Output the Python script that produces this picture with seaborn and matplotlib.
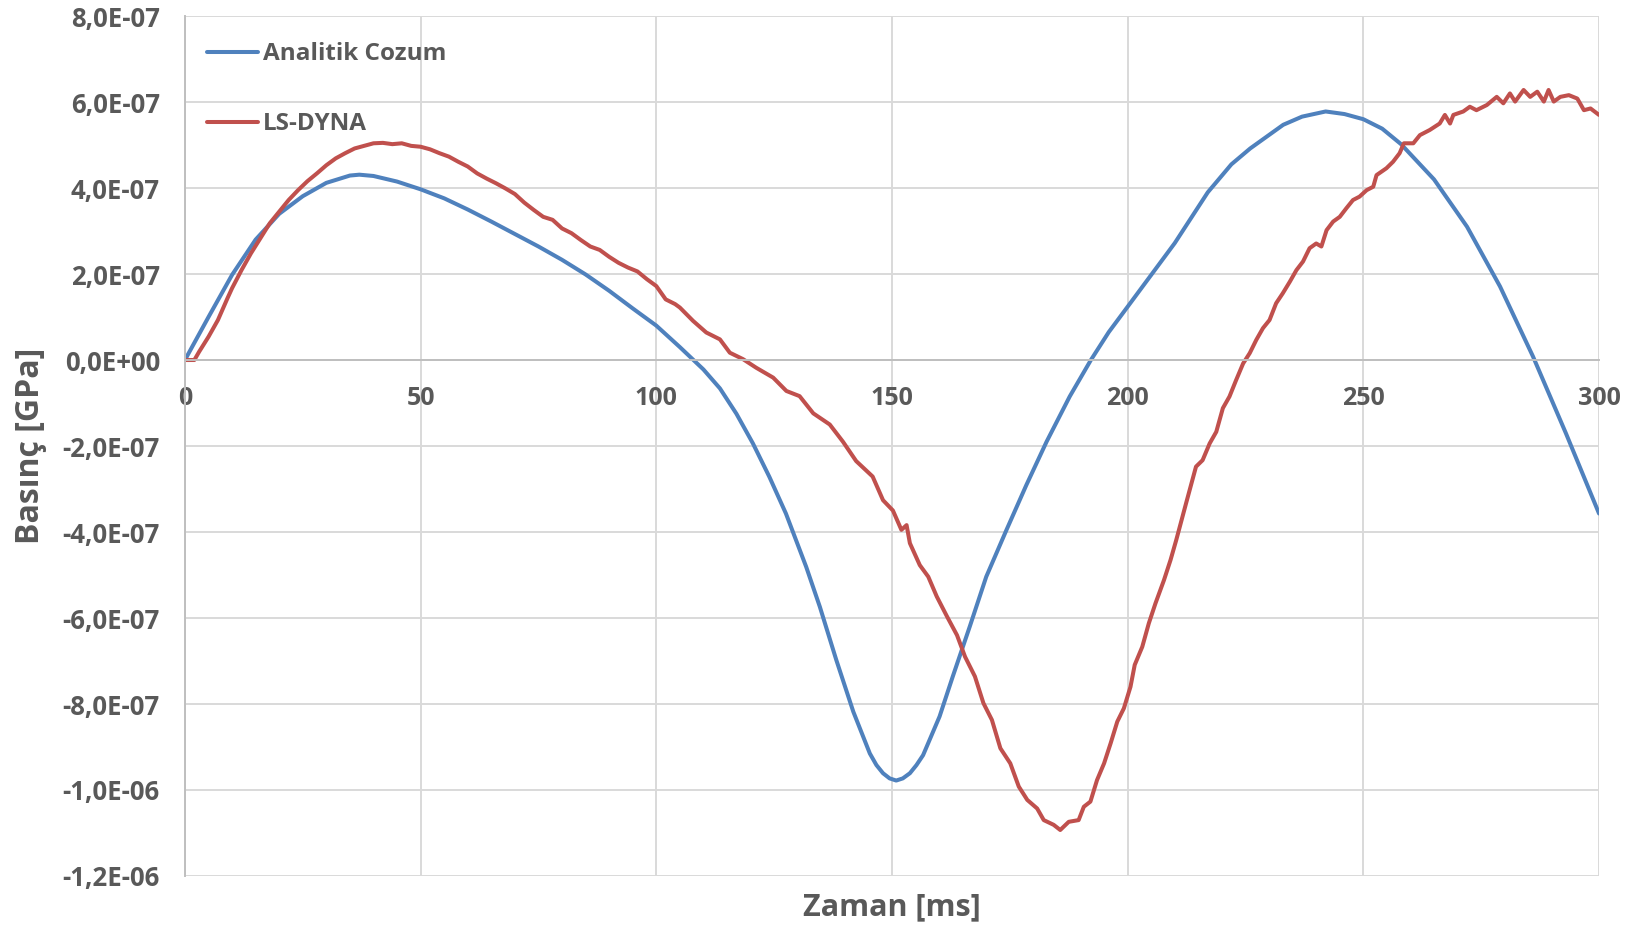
import seaborn as sns
import matplotlib.pyplot as plt
import numpy as np
import pandas as pd

# values, pressure in units of 1e-7 GPa
analitik_t = [0, 5, 10, 15, 20, 25, 30, 35, 37, 40, 45, 50, 55, 60, 65, 70, 75, 80, 85, 90,
              95, 100, 105, 110, 113.5, 117, 120.5, 124, 127.5, 131.8, 134.7, 138.2, 141.8,
              145.3, 146.7, 148.1, 149.5, 150.9, 152.3, 153.8, 155.2, 156.6, 160.1, 162.9,
              166.5, 170, 174.3, 178.5, 182.8, 187.7, 192.2, 196, 200, 205, 210, 217, 222,
              226, 233, 237, 242, 246, 250, 254, 258, 265, 272, 279, 286, 293, 300]
analitik_p = [0, 1.0, 1.98, 2.8, 3.4, 3.81, 4.12, 4.29, 4.31, 4.28, 4.15, 3.97, 3.76, 3.5, 3.22,
              2.93, 2.64, 2.33, 1.99, 1.61, 1.2, 0.8, 0.3, -0.22, -0.66, -1.25, -1.94, -2.72,
              -3.57, -4.81, -5.74, -6.98, -8.18, -9.15, -9.42, -9.61, -9.73, -9.78, -9.73,
              -9.61, -9.42, -9.19, -8.29, -7.36, -6.2, -5.04, -3.95, -2.91, -1.9, -0.85, 0.0,
              0.65, 1.24, 1.98, 2.72, 3.9, 4.55, 4.92, 5.47, 5.66, 5.78, 5.72, 5.6, 5.38, 5.02,
              4.2, 3.1, 1.71, 0.08, -1.71, -3.57]

lsdyna_t = [0, 2, 3, 5, 7, 9, 10, 12, 14, 16, 18, 20, 22, 24, 26, 28, 30, 32, 34, 36, 38, 40,
            42, 44, 46, 48, 50, 52, 54, 56, 58, 60, 62, 64, 66, 68, 70, 72, 74, 76, 78, 80, 82,
            84, 86, 88, 90, 92, 94, 96, 98, 100, 102, 104, 105, 107.8, 110.6, 113.5, 115.6,
            118.4, 121.2, 124.8, 127.6, 130.4, 133.3, 136.8, 139.6, 142.4, 145.9, 148.1, 150.2,
            152.0, 153.1, 153.8, 155.9, 157.7, 159.5, 161.7, 163.8, 165.5, 167.6, 169.4, 171.2,
            173.0, 175.1, 176.9, 178.7, 180.8, 182.2, 184.3, 185.7, 187.5, 189.6, 190.7, 192.1,
            193.5, 195.0, 196.4, 197.8, 199.2, 200.6, 201.5, 203.1, 204.5, 205.9, 207.7, 209.1,
            210.3, 212.4, 214.5, 215.9, 217.4, 218.8, 220.2, 221.6, 223.0, 224.5, 225.9, 227.3,
            228.7, 230.1, 231.5, 232.9, 234.4, 235.8, 237.2, 238.6, 240.0, 241.1, 242.2, 243.6,
            245.0, 246.4, 247.8, 249.2, 250.7, 252.1, 252.8, 254.9, 256.3, 257.7, 258.6, 260.6,
            262.0, 264.1, 266.2, 267.3, 268.4, 269.1, 271.2, 272.6, 274.0, 276.2, 278.3, 279.7,
            281.1, 282.2, 284.0, 285.4, 286.9, 288.3, 289.3, 290.4, 291.8, 293.6, 295.4, 296.8,
            298.2, 300.0]
lsdyna_p = [0, 0.0, 0.19, 0.54, 0.93, 1.43, 1.67, 2.09, 2.48, 2.83, 3.18, 3.45, 3.72, 3.95, 4.16,
            4.34, 4.53, 4.69, 4.81, 4.92, 4.98, 5.04, 5.05, 5.02, 5.04, 4.98, 4.96, 4.9, 4.81,
            4.73, 4.61, 4.5, 4.34, 4.22, 4.11, 3.99, 3.86, 3.66, 3.49, 3.33, 3.26, 3.06, 2.95,
            2.79, 2.64, 2.56, 2.4, 2.26, 2.15, 2.06, 1.88, 1.72, 1.41, 1.3, 1.22, 0.91, 0.64,
            0.48, 0.17, 0.02, -0.18, -0.41, -0.72, -0.84, -1.24, -1.5, -1.9, -2.35, -2.71, -3.26,
            -3.5, -3.95, -3.84, -4.26, -4.77, -5.04, -5.5, -5.97, -6.4, -6.9, -7.36, -7.98, -8.37,
            -9.03, -9.38, -9.92, -10.23, -10.43, -10.7, -10.81, -10.93, -10.74, -10.7, -10.39,
            -10.27, -9.77, -9.38, -8.91, -8.41, -8.1, -7.6, -7.09, -6.67, -6.12, -5.66, -5.12,
            -4.65, -4.19, -3.33, -2.48, -2.33, -1.94, -1.67, -1.12, -0.85, -0.47, -0.08, 0.16,
            0.47, 0.74, 0.93, 1.32, 1.55, 1.82, 2.09, 2.29, 2.6, 2.71, 2.64, 3.02, 3.22, 3.33,
            3.53, 3.72, 3.8, 3.95, 4.03, 4.3, 4.46, 4.61, 4.81, 5.04, 5.04, 5.23, 5.35, 5.5, 5.7,
            5.5, 5.7, 5.78, 5.89, 5.81, 5.93, 6.12, 5.97, 6.2, 6.01, 6.28, 6.12, 6.24, 6.01, 6.28,
            6.01, 6.12, 6.16, 6.08, 5.81, 5.85, 5.7]

x_ticks = [0, 50, 100, 150, 200, 250, 300]
y_ticks = [-12e-7, -10e-7, -8e-7, -6e-7, -4e-7, -2e-7, 0, 2e-7, 4e-7, 6e-7, 8e-7]

sns.set_style("white")
plt.rcParams['font.family'] = ['Open Sans', 'DejaVu Sans']
gray = "#595959"

fig = plt.figure(figsize=(16.38, 9.26), dpi=100)
ax = fig.add_axes([0.1129, 0.054, 0.8633, 0.9287])

sns.lineplot(x=analitik_t, y=np.array(analitik_p) * 1e-7, ax=ax, color="#4F81BD",
             linewidth=2.9, label="Analitik Cozum", sort=False, estimator=None)
sns.lineplot(x=lsdyna_t, y=np.array(lsdyna_p) * 1e-7, ax=ax, color="#C0504D",
             linewidth=2.9, label="LS-DYNA", sort=False, estimator=None)

ax.set_xlim(0, 300)
ax.set_ylim(-12e-7, 8e-7)
ax.set_xticks(x_ticks)
ax.set_yticks(y_ticks)
ax.set_yticklabels([f"{v:.1E}".replace(".", ",") for v in y_ticks])
ax.grid(True, color="#D9D9D9", linewidth=1.4)
ax.set_axisbelow(True)

for s in ["top", "right"]:
    ax.spines[s].set_visible(False)
ax.spines["bottom"].set_position(("data", 0))
ax.spines["bottom"].set_color("#BFBFBF")
ax.spines["left"].set_color("#BFBFBF")
ax.spines["bottom"].set_linewidth(1.4)
ax.spines["left"].set_linewidth(1.4)

ax.tick_params(axis="y", length=0, labelsize=18.5, labelcolor=gray, pad=18)
ax.tick_params(axis="x", length=0, labelsize=18, labelcolor=gray, pad=19)
for lab in ax.get_xticklabels() + ax.get_yticklabels():
    lab.set_fontweight("bold")

ax.set_xlabel("Zaman [ms]", fontsize=22, fontweight="bold", color=gray, va="center")
ax.set_ylabel("Basınç [GPa]", fontsize=23, fontweight="bold", color=gray, va="center")
ax.xaxis.set_label_coords(0.5, -0.037)
ax.yaxis.set_label_coords(-0.109, 0.5)

leg = ax.legend(loc="upper left", bbox_to_anchor=(0.0, 0.995), frameon=False,
                fontsize=17.5, handlelength=2.1, handletextpad=0.2, labelspacing=1.9)
for txt in leg.get_texts():
    txt.set_color(gray)
    txt.set_fontweight("bold")

plt.savefig("out.png", dpi=100)
